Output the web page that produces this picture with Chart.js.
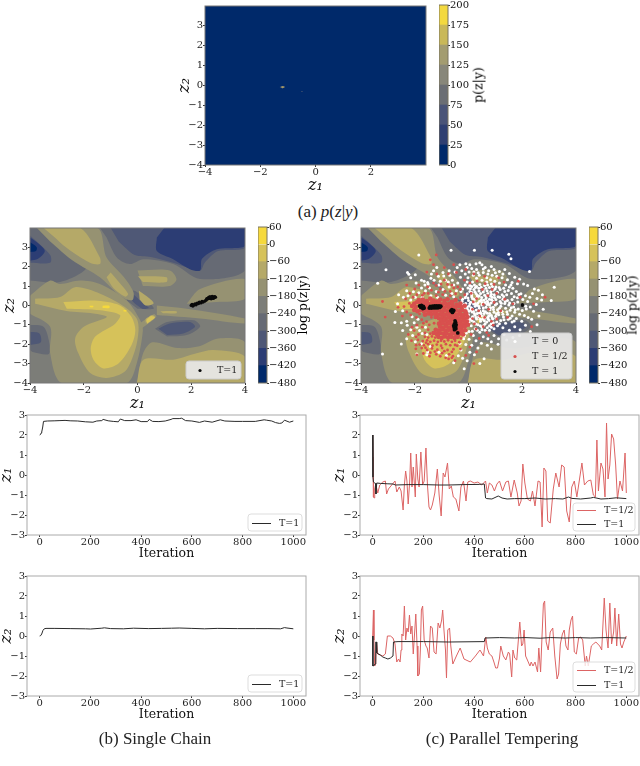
<!DOCTYPE html>
<html>
<head>
<meta charset="utf-8">
<script src="https://cdn.jsdelivr.net/npm/chart.js@4"></script>
<style>
  html, body { margin: 0; background: #fff; }
  #page { position: relative; width: 640px; height: 766px; overflow: hidden; }
  canvas { position: absolute; }
  .cap { position: absolute; font: 17px "Liberation Serif", serif; color: #222; transform: translate(-50%, -50%); white-space: nowrap; }
  .cbar { position: absolute; font: 12.5px "DejaVu Serif", serif; color: #000; transform: translate(-50%, -50%) rotate(-90deg); white-space: nowrap; }
</style>
</head>
<body>
<div id="page"></div>
<script>
// ---- axis ticks
const zTicksA = [-4, -2, 0, 2]
const zTicks = [-4, -2, 0, 2, 4]
const z2Ticks = [-4, -3, -2, -1, 0, 1, 2, 3]
const iterTicks = [0, 200, 400, 600, 800, 1000]
const traceTicks = [-3, -2, -1, 0, 1, 2, 3]

// ---- colorbars: lower edge of each band, and its colour
const probLevels = [0, 25, 50, 75, 100, 125, 150, 175, 200]
const probColors = ['#00296a', '#2f3f72', '#4a5478', '#6b6e74', '#88877a', '#a39c70', '#c9b858', '#f3d93f']
const logLevels = [-480, -420, -360, -300, -240, -180, -120, -60, 0, 60]
const logColors = ['#00296a', '#2c3d74', '#4f5876', '#666a74', '#7c7d78', '#969272', '#b5a968', '#d6c25a', '#f6d93c']

// ---- posterior contours, [level index, outline]; painted in this order
const logBase = 4
const logRegions = [
  [3, [[-4,4],[-3.5,4],[-2.64,2.8],[-1.9,1.95],[-2.88,1.2],[-4,1.28]]],
  [3, [[-1.4,4],[4,4],[4,1.8],[2.33,1.36],[1.33,2.13],[.22,2.38],[-.28,2.13],[-.77,2.47],[-1.15,3.5]]],
  [3, [[-.4,.25],[-.15,.77],[.47,.08],[.6,-.17],[0,-.17]]],
  [3, [[.65,-1.2],[1.1,-.85],[2.1,-.77],[2.33,-1.1],[1.83,-1.53],[1.1,-1.6]]],
  [3, [[-4,-1],[-3.5,-1.1],[-3.3,-1.8],[-3.3,-2.5],[-3.9,-2.4],[-4,-2.3]]],
  [2, [[-1,4],[4,4],[4,2.97],[3,2.8],[2.5,2.2],[2.33,1.8],[1.33,2.2],[.5,2.5],[-.1,2.6],[-.7,3.3]]],
  [2, [[-4,3.6],[-3.25,2.6],[-3.25,2.2],[-4,2.2]]],
  [2, [[.78,-1.2],[1.2,-.93],[1.95,-.85],[2.14,-1.1],[1.7,-1.45],[1.1,-1.53]]],
  [2, [[-.35,.45],[-.2,.6],[.2,.1],[.42,-.12],[.2,-.18],[-.1,.1]]],
  [2, [[-4,-1.36],[-3.65,-1.45],[-3.6,-1.9],[-4,-2.05]]],
  [1, [[1,4],[4,4],[4,3.06],[2.95,2.9],[2.4,2.4],[2.33,1.8],[1.95,1.87],[1.33,2.38],[.72,2.8],[.72,3.5]]],
  [1, [[-4,3.5],[-3.7,3.2],[-3.45,2.8],[-3.7,2.4],[-4,2.3]]],
  [0, [[-4,3.25],[-3.75,3],[-3.78,2.8],[-4,2.75]]],
  [5, [[-3.75,4],[-1.5,4],[-1.15,2.47],[-.5,1.45],[-.15,.68],[-.2,.26],[-.65,.5],[-1.4,1.45],[-2.4,2.3],[-3.25,3.3]]],
  [5, [[-4,.5],[-3.25,1.28],[-2.88,1.1],[-2.14,1.28],[-1.4,1.1],[-.4,.25],[.1,-.77],[.2,-1.28],[-.03,-3],[-.4,-4],[-2.82,-4],[-3.25,-2.47],[-3.25,-1.1],[-4,-.43]]],
  [5, [[0,1.8],[1.2,1.8],[1.45,1.35],[1.2,1],[.2,1]]],
  [5, [[.72,0],[1.83,-.17],[4,-.68],[4,-.93],[2.33,-.68],[.72,-.5]]],
  [5, [[1.83,.08],[2.33,.85],[4,1.36],[4,.34],[2.95,.17]]],
  [5, [[0,-4],[.2,-2.5],[.55,-1.9],[1.5,-2.2],[2.3,-2.1],[3,-1.7],[4,-1.9],[4,-4]]],
  [5, [[.05,-1.3],[.7,-.6],[.6,-.45],[.1,-.9]]],
  [6, [[-3.5,4],[-2.14,4],[-1.4,2.47],[-1.4,2.13],[-1.77,2.2],[-2.64,2.97],[-3.13,3.57]]],
  [6, [[-3.81,.34],[-2.88,.43],[-2.32,.94],[-1.39,.6],[-.47,-.08],[-.03,-.68],[.04,-1.28],[-.09,-2.3],[-.46,-3.4],[-1.15,-3.74],[-1.76,-3.49],[-2.2,-2.47],[-2.32,-1.7],[-2,-1.1],[-1.14,-.6],[-1.64,-.42],[-2.64,-.29],[-3.81,.08]]],
  [6, [[-1,1.7],[-.75,1.3],[-.35,.6],[-.45,.45],[-.9,.9],[-1.15,1.45]]],
  [6, [[.05,.75],[.45,.35],[.6,.1],[.3,0],[.08,.3]]],
  [6, [[.02,1.5],[1.08,1.45],[1.08,1.2],[.2,1.2]]],
  [6, [[-.03,-4],[.22,-2.8],[1.33,-2.8],[2.2,-2.47],[2.83,-2.3],[4,-2.64],[4,-4]]],
  [6, [[.3,-.9],[.65,-.6],[.55,-.5],[.3,-.7]]],
  [6, [[.85,-.3],[1.45,-.3],[1.45,-.4],[.95,-.4]]],
  [7, [[-2.76,.17],[-1.6,.25],[-.65,0],[-.22,-.6],[-.08,-1.28],[-.22,-2.04],[-.71,-3],[-1.27,-3.25],[-1.64,-2.8],[-1.74,-2.2],[-1.57,-1.6],[-.83,-.94],[-.65,-.5],[-1.38,-.25],[-2.63,-.17]]],
  [7, [[.35,-.95],[.65,-.62],[.5,-.55],[.33,-.75]]],
  [8, [[-1.78,-.02],[-1.65,-.02],[-1.65,-.1],[-1.78,-.1]]],
  [8, [[-1.3,-.02],[-1.05,-.02],[-1.05,-.14],[-1.3,-.14]]],
  [8, [[-.52,-.24],[-.42,-.24],[-.42,-.32],[-.52,-.32]]]
]
const probRegions = [
  [3, [[-1.3,-.08],[-1.2,-.03],[-1.1,-.08],[-1.2,-.15]]],
  [6, [[-1.25,-.08],[-1.2,-.06],[-1.14,-.08],[-1.2,-.12]]],
  [3, [[-.51,-.29],[-.48,-.29],[-.48,-.33],[-.51,-.33]]]
]

// ---- samples
const singleSamples = [[2,0],[2.03,.05],[2.06,-.03],[2.1,.02],[2.14,.08],[2.18,.03],[2.22,.12],[2.27,.1],[2.3,.16],[2.36,.13],[2.4,.2],[2.44,.17],[2.5,.22],[2.55,.27],[2.62,.34],[2.66,.38],[2.7,.36],[2.72,.42],[2.76,.38],[2.8,.44],[2.84,.4],[2.87,.45],[2.74,.34],[2.68,.44],[2.78,.46],[2.82,.36],[2.9,.42],[2.64,.4],[2.58,.35],[2.7,.42]]
const coldSamples = [[-1.82,-.02],[-1.78,-.1],[-1.75,0],[-1.72,-.08],[-1.7,-.16],[-1.68,-.05],[-1.65,-.14],[-1.46,-.14],[-1.42,-.05],[-1.38,-.14],[-1.34,-.04],[-1.3,-.12],[-1.26,-.03],[-1.22,-.13],[-1.18,-.02],[-1.14,-.12],[-1.1,-.03],[-1.06,-.1],[-1.03,-.04],[-1.25,-.09],[-1.2,-.07],[-.66,-.28],[-.62,-.22],[-.58,-.32],[-.55,-.26],[-.6,-.36],[-.48,-.88],[-.52,-.95],[-.46,-1],[-.55,-1.05],[-.48,-1.1],[-.53,-1.15],[-.47,-1.2],[-.5,-.8],[-.52,-1.25],[-.4,-1.42],[2,.02]]
const midDense = [[-1.85,.28],[-1.7,.3],[-1.55,.22],[-1.42,.35],[-1.3,.25],[-1.18,.2],[-1.05,.3],[-.9,.24],[-.78,.32],[-.62,.18],[-.48,.28],[-2.02,.1],[-1.92,.16],[-1.78,.12],[-1.65,.15],[-1.5,.08],[-1.36,.14],[-1.22,.08],[-1.1,.12],[-.98,.06],[-.86,.1],[-.72,.08],[-.6,.12],[-.44,.05],[-.3,.1],[-2.1,-.03],[-1.96,-.08],[-1.62,.02],[-1.55,-.05],[-1.5,-.14],[-.98,-.05],[-.9,-.12],[-.8,-.04],[-.72,-.12],[-.6,-.06],[-.5,-.1],[-.38,-.04],[-.26,-.08],[-.14,-.02],[-2.02,-.24],[-1.9,-.3],[-1.78,-.24],[-1.66,-.3],[-1.55,-.24],[-1.44,-.3],[-1.32,-.26],[-1.2,-.32],[-1.08,-.26],[-.96,-.3],[-.84,-.26],[-.74,-.34],[-.46,-.26],[-.34,-.3],[-.22,-.24],[-.12,-.3],[-1.62,-.48],[-1.5,-.42],[-1.38,-.46],[-1.26,-.42],[-1.14,-.48],[-1.02,-.44],[-.9,-.48],[-.78,-.44],[-.66,-.5],[-.54,-.44],[-.42,-.48],[-.3,-.44],[-.18,-.5],[-.08,-.44],[-1.22,-.6],[-1.1,-.66],[-.98,-.62],[-.86,-.66],[-.74,-.6],[-.62,-.66],[-.5,-.6],[-.38,-.66],[-.26,-.62],[-.14,-.66],[-.04,-.6],[-1.02,-.8],[-.9,-.76],[-.78,-.82],[-.66,-.78],[-.54,-.72],[-.42,-.78],[-.3,-.82],[-.18,-.78],[-.06,-.82],[-1.1,-.94],[-.96,-.92],[-.84,-.98],[-.72,-.92],[-.6,-.98],[-.36,-.94],[-.24,-.98],[-.12,-.94],[-.02,-1],[-1.06,-1.1],[-.94,-1.14],[-.82,-1.08],[-.7,-1.14],[-.6,-1.1],[-.36,-1.1],[-.26,-1.14],[-.14,-1.1],[-1.22,-1.26],[-1.1,-1.3],[-.98,-1.24],[-.86,-1.3],[-.74,-1.26],[-.62,-1.32],[-.5,-1.36],[-.36,-1.28],[-.24,-1.32],[-.12,-1.28],[-1.3,-1.42],[-1.18,-1.48],[-1.06,-1.42],[-.94,-1.46],[-.82,-1.44],[-.7,-1.5],[-.58,-1.44],[-.46,-1.5],[-.34,-1.46],[-.2,-1.5],[-1.12,-1.62],[-1,-1.68],[-.88,-1.6],[-.76,-1.66],[-.64,-1.62],[-.52,-1.68],[-.4,-1.62]]
const midSparse = [[-1.82,-.44],[-1.38,-.62],[-1.62,-1.62],[-1.5,-1.66],[-1.36,-1.6],[-1.24,-1.66],[-1.42,-1.46],[-.28,-1.7],[-1.28,-1.82],[-1.14,-1.88],[-1.02,-1.82],[-.9,-1.86],[-.76,-1.8],[-.62,-1.88],[-.5,-1.82],[-1.7,-1.84],[-1.54,-1.8],[-1.42,-1.88],[-.34,-1.9],[-1.82,-2.02],[-1.66,-2.06],[-1.5,-2],[-1.34,-2.08],[-1.18,-2.02],[-1.02,-2.08],[-.84,-2],[-.68,-2.06],[-.5,-2.04],[-1.96,-2.24],[-1.74,-2.2],[-1.54,-2.3],[-1.36,-2.22],[-1.16,-2.28],[-.98,-2.2],[-.78,-2.3],[-.56,-2.26],[-1.68,-2.48],[-1.42,-2.44],[-1.2,-2.52],[-.98,-2.46],[-.72,-2.52],[-1.92,-2.55],[-.62,-2.7],[-.74,-2.76],[-.58,-2.62],[-2.2,.1],[-2.34,.34],[-2.06,.42],[-1.72,.52],[-1.5,.62],[-1.2,.5],[-.96,.56],[-.68,.5],[-.48,.6],[-.3,.4],[-.14,.55],[-2.4,-.06],[-2.62,-.1],[-2.3,-.34],[-2.15,-.5],[-2.46,-.55],[-1.94,-.62],[-1.74,-.74],[-1.56,-.84],[-1.46,-1],[-1.28,-.92],[-1.72,-1.12],[-2.02,-1.3],[-2.24,-1.5],[-1.86,-1.5],[-3.2,.2],[-3.1,-.6],[-2.3,1.05],[-2,.85],[-1.85,1.05],[-1.52,.95],[-1.3,1.15],[-1.05,.85],[-.9,1.3],[-.62,1.05],[-.4,.95],[-.15,1.3],[-.75,1.62],[-1.18,1.62],[-1.55,1.72],[-.45,1.7],[-.1,1.85],[-1.2,2.6],[-1.42,2.35],[-1.3,2.1],[-.9,1.95],[-.55,2.1],[.1,.62],[.3,.35],[.52,.82],[.72,.5],[.15,-.2],[.42,-.55],[.75,-.2],[.95,.15],[.22,-.95],[.55,-1.1],[.1,-1.5],[.4,-1.7],[.75,-1.55],[.05,-2.15],[.3,-2.4],[-.1,-2.58],[.2,-3],[.55,.05],[1.05,.62],[1.35,.32],[1.05,-.7],[1.45,-.62],[2.35,-1.1],[2.85,.42],[2.42,.08],[1.92,.42],[.95,1.08],[1.32,1.2],[.6,1.5],[.32,1.25],[1.85,1.25],[.05,1.15],
[-1.58,-1.92],[-1.88,-1.78],[-1.95,-2.05],[-1.6,-2.18],[-1.25,-2.38],[-.9,-2.36],[-.62,-2.4],[-.42,-2.08],[-.3,-2.25],[-1.45,-2.62],[-1.05,-2.62],[-.85,-2.7],[-.5,-2.85],[-1.68,-.92],[-1.92,-1.02],[-2.1,-1.12],[-1.5,-1.25],[-1.62,-1.42],[-1.95,-1.62],[-2.12,-1.82],[-.68,.72],[-.88,.72],[-1.12,.68],[-1.38,.78],[-1.65,.62],[-1.92,.55],[-2.18,.62],[-.3,.82],[-.55,.9],[-.78,1.08],[-1.02,1.1],[-1.2,1.02],[.18,.18],[.38,-.28],[.6,-.62],[.85,-.82],[.15,-.68],[.28,-1.22],[.68,-1.4],[.92,-1.02],[1.2,-.28],[1.65,.08],[.88,.82],[.62,1.12],[.2,1.62],[1.12,1.42]]
const hotSamples = [[-.65,2.84],[.22,2.84],[.88,2.84],[1.5,2.64],[1.58,2.41],[-1.85,2.6],[-3.07,1.84],[-3.38,1.14],[2.27,1.75],[3.19,.94],[-3.2,-2.5],[-2.5,-1.99],[-2.74,-.88],[-2.64,.08],[-2.27,1.7],[-2.22,1.6],[-.16,-3.27],[.42,-3],[.58,-2.75],[.22,-2.55],[.85,-2.25],[1.1,-2],[.7,-2.05],[-1.52,-2.4],[-1.92,-2.5],[-1.55,-2.55],[-2.08,-1.55],[-2.3,-1.72],[-1.82,-1.3],[-1.6,-1.12],[-2.02,-.9],[-2.3,-.82],[-2.5,-.9],[-1.88,-.72],[-2.1,-.58],[-2.25,.5],[-2.3,.75],[-2.05,.7],[-1.85,.65],[-1.6,.75],[-1.75,.9],[-1.5,1.1],[-1.65,1.25],[-1.4,1.4],[-1.52,1.18],[-1.75,1.3],[-.95,1.7],[-1.18,1.95],[-1.3,1.78],[-.7,1.55],[-.85,1.3],[-1.05,1.25],[-.6,1.3],[-.5,1.72],[-.3,1.45],[-.72,.95],[-.95,.82],[-1.2,.72],[-.45,.75],[-.28,.72],[-.55,.45],[-.22,.32],[-.1,.5],[.28,2.15],[.42,2.2],[.05,2.1],[-.1,2.15],[-.32,2.1],[.5,2.1],[.62,1.95],[.85,2],[.95,1.85],[1.15,1.75],[1.35,1.85],[1.52,1.65],[1.72,1.45],[1.9,1.35],[.12,1.9],[.3,1.85],[.02,1.72],[-.12,1.62],[-.02,1.42],[.18,1.55],[.36,1.68],[.55,1.7],[.72,1.62],[.88,1.55],[1.05,1.5],[1.25,1.42],[1.45,1.32],[1.62,1.18],[1.82,1.12],[2.05,1.1],[2.2,1.02],[2.45,.85],[2.6,.78],[1.65,.88],[1.52,.95],[1.35,.72],[1.18,.82],[1.02,.95],[.85,1.1],[.68,1.2],[.5,1.3],[.3,1.4],[.15,1.2],[-.05,1.2],[.05,1.02],[.22,1.05],[.42,1.08],[.6,1.02],[.78,.92],[.92,.78],[1.08,.68],[1.25,.55],[1.42,.55],[1.6,.62],[1.78,.72],[1.95,.6],[2.12,.5],[2.28,.42],[2.55,.35],[2.72,.28],[3.08,.25],[2.52,.05],[2.3,-.08],[2.15,-.18],[2,-.26],[1.85,-.18],[1.68,-.08],[1.5,.02],[1.35,.1],[1.18,.2],[1.02,.3],[.88,.42],[.72,.62],[.55,.8],[.38,.88],[.2,.82],[.05,.72],[-.05,.6],[.12,.55],[.28,.62],[.45,.62],[.6,.52],[.78,.32],[.92,.2],[1.05,.08],[1.2,-.05],[1.38,-.15],[1.55,-.25],[1.72,-.35],[1.9,-.45],[2.08,-.52],[2.22,-.62],[2.35,-.72],[2.62,-.55],[1.98,-.82],[1.78,-.68],[1.62,-.55],[1.45,-.45],[1.25,-.32],[1.08,-.22],[.92,-.1],[.78,.02],[.62,.15],[.48,.28],[.32,.42],[.15,.35],[0,.25],[-.1,.1],[.05,.08],[.2,.18],[.35,.12],[.5,.02],[.65,-.1],[.8,-.22],[.95,-.35],[1.12,-.48],[1.3,-.6],[1.48,-.72],[1.62,-.85],[1.38,-.92],[1.2,-.78],[1.02,-.66],[.85,-.52],[.7,-.4],[.55,-.28],[.4,-.15],[.25,-.05],[.1,-.12],[-.05,-.08],[-.12,-.25],[.02,-.3],[.18,-.3],[.32,-.42],[.48,-.52],[.62,-.65],[.78,-.78],[.92,-.9],[1.08,-1.05],[.95,-1.2],[.78,-1.05],[.62,-.95],[.45,-.82],[.3,-.7],[.15,-.58],[0,-.48],[-.1,-.55],[.05,-.72],[.2,-.85],[.35,-1],[.5,-1.12],[.62,-1.28],[.42,-1.38],[.25,-1.2],[.1,-1.05],[-.05,-.9],[-.12,-1.2],[.02,-1.35],[.18,-1.55],[.02,-1.75],[-.18,-1.72],[-.32,-1.95],[-.1,-2.02],[.48,-1.95],[.72,-1.72],[.95,-1.55],[-.28,-2.3],[-.38,-2.6],[-.05,-2.85],[.35,-2.2],[1.32,-1.5],[1.52,-1.28],[1.72,-1.1],[1.92,-1.25],[2.3,-1.35],[1.28,-1.15],[.3,.98],[.12,.98],[-.02,.9],[.65,.88],[.4,.48],[.22,.3],[.7,.22],[.85,.58],[1.1,.45],[1.28,.32],[1.45,.25],[1.62,.3],[1.82,.4],[2.02,.3],[2.2,.2],[1,.02],[1.15,-.15],[.82,-.12],[.65,.35],[.5,.15],[.32,.02],[.15,-.18],[.42,-.3],[.58,-.42],[.75,-.55],[.9,-.7],[1.05,-.85],[.22,-.42],[.38,-.58],[.52,-.72],[.68,-.85],[.85,-.95],
[.08,.16],[.26,.09],[.41,.22],[.57,.27],[.73,.11],[.86,.29],[.03,-.03],[.19,.07],[.38,-.05],[.55,-.13],[.69,.05],[.84,.12],[.97,.41],[.12,.44],[.33,.52],[.49,.41],[.66,.45],[.82,.49],[.96,.55],[.14,-.34],[.29,-.24],[.46,-.41],[.63,-.33],[.79,-.42],[.93,-.21],[1.04,-.43],[.09,-.24],[.24,-.51],[.39,-.36],[.57,-.58],[.72,-.62],[.88,-.63],[1.01,-.56],[.13,-.66],[.28,-.62],[.43,-.71],[.59,-.79],[.74,-.71],[.12,.67],[.24,.71],[.39,.74],[.55,.69],[.69,.75],[.83,.71],[.99,.84],[1.14,.92],[1.31,.88],[1.48,.77],[.07,.86],[.26,.92],[.47,.94],[.71,1.05],[.89,.98],[1.16,.42],[1.31,.46],[1.22,.11],[1.37,.2],[1.53,.12],[1.11,-.36],[1.28,-.46],[1.43,-.33],[1.59,-.12],[1.74,-.22],[1.69,.1],[1.83,.18],[1.98,.04],[2.13,-.05],[1.7,.45],[1.88,.56],[-.2,.05],[-.16,-.14],[-.24,.2],[-.02,.38],[-.12,.4],[-.04,-.2],[-.02,-.62],[-.08,-.72],[.02,-.85],[.12,-.78],[.27,-.96],[.44,-1.05],[.57,-1.03],[.7,-1.15],[.85,-1.12],[.33,-1.28],[.14,-1.33],[.5,-1.25],[.78,-1.28],[1.15,-.95],[1.32,-.74],[1.55,-.66],[1.7,-.8],[-.22,.85],[-.12,1.05],[.68,1.42],[.82,1.32],[.98,1.25],[1.15,1.15],[1.38,1.05],[1.58,1.05],[.4,1.55],[.2,1.72],[.55,1.88],[.75,1.78],[1,1.68],[1.28,1.62],[-.4,1.15],[-.55,1.05],[-.75,1.2],[-1.1,1.05],[-1.28,1.3],[-1.45,.9],[-1.62,1.05],[-1.95,1.15],[-2.15,1.42],[-1.98,1.58],
[-2.42,.42],[-2.6,.55],[-2.15,.28],[-1.98,.42],[-1.72,.42],[-1.4,.5],[-1.15,.42],[-.85,.52],[-.62,.62],[-2.72,-.32],[-2.45,-.28],[-2.28,-1.02],[-2.45,-1.3],[-2.15,-1.25],[-1.92,-1.12],[-1.72,-1.45],[-1.55,-1.5],[-1.98,-1.88],[-1.75,-1.98],[-1.42,-2.12],[-1.1,-2.42],[-.82,-2.58],[-.55,-2.95],[-.22,-2.72],[.05,-2.42],[.12,-2.05],[.28,-1.82],[.55,-1.62],[.85,-1.88],[1.12,-1.72],[1.42,-1.78],[-.08,-1.42],[-.15,-1.58],[-1.38,1.62],[-1.12,1.5],[-.92,1.52],[-.72,1.78],[-.42,1.95],[-.25,1.78],[-.05,1.95],[2.38,.62],[2.75,.55],[2.42,-.3],[2.78,-.2],[2.55,-1],[2.12,-1.02],[1.9,-1.55],[1.65,-1.65]]

// ---- traces: iteration numbers and values
const singleIter1 = [0,3,6,8,12,15,30,60,80,100,120,150,180,210,225,245,250,270,290,310,318,335,360,380,400,425,432,445,470,495,518,525,550,560,575,600,630,650,680,712,730,770,800,850,885,895,915,930,945,955,965,985,1000]
const singleZ1 = [2,2.02,2.1,2.15,2.4,2.68,2.7,2.71,2.72,2.73,2.71,2.7,2.66,2.64,2.7,2.72,2.78,2.71,2.68,2.66,2.8,2.72,2.72,2.76,2.67,2.67,2.78,2.68,2.67,2.7,2.78,2.82,2.82,2.84,2.72,2.7,2.63,2.7,2.64,2.76,2.7,2.68,2.68,2.68,2.76,2.74,2.7,2.62,2.58,2.6,2.74,2.64,2.7]
const singleIter2 = [0,4,8,13,18,25,60,120,180,200,245,255,280,330,370,430,480,520,550,600,650,700,780,850,900,950,965,975,1000]
const singleZ2 = [0,.02,.1,.28,.36,.38,.38,.37,.36,.35,.39,.41,.37,.36,.39,.37,.38,.39,.4,.38,.36,.38,.37,.37,.37,.36,.42,.4,.36]
const partIter1 = [0,2,3,6,8,12,20,28,40,50,55,62,75,88,95,105,112,120,125,130,135,140,146,150,155,160,168,172,178,183,190,197,203,210,216,222,228,235,245,255,262,270,278,285,295,302,310,318,328,340,348,358,368,375,385,400,415,430,445,452,460,470,480,490,500,512,525,535,545,558,570,577,585,592,600,610,622,630,640,652,660,668,675,683,690,700,712,722,735,745,755,765,775,785,795,805,825,835,848,860,870,878,884,890,900,908,916,922,928,935,942,950,958,965,975,985,995,1000]
const hotZ1 = [2,.9,-1.1,-1.15,-.7,-.45,-.9,-.5,-.35,-.3,-.95,-.7,-.5,-.3,-.85,-.6,-.8,-1.75,-.5,.2,-.3,-1.45,-.3,1.1,-.6,.4,-1.1,1.05,-.2,-.6,1.15,-.5,-.3,1.35,-.5,-1.6,-1.75,-1.5,-.9,.3,-1,-2.05,.1,-.1,.6,-.7,-.55,-1.1,-1.2,-1.8,-.6,-.3,-1.3,-.35,-.3,-.4,-.35,-.5,-.3,-.9,-.4,-.5,-.8,-.45,-.3,-.8,-.35,-.3,-1.1,-.25,-.9,-1.55,-1.3,.55,-.4,-1.2,-1.3,-.8,-1.55,-.3,-.35,-2.6,.35,.2,-2.3,-2.4,-.7,.1,-.6,.5,.4,-1.8,-2.35,-.6,-.3,-1.1,.6,-.5,-.3,-.25,-1,-1.1,1.75,-.8,.6,.3,-1.1,2.6,-.2,.5,2.05,1.8,.5,-1.2,-.3,-.8,1.1,-.9]
const partIter2 = [0,3,5,8,12,15,20,30,40,50,58,70,80,88,95,102,108,112,115,120,125,130,135,140,145,150,155,160,165,170,175,178,184,188,192,197,203,210,215,222,228,235,242,250,258,265,272,276,281,287,291,296,303,308,316,330,345,360,385,405,423,437,446,452,460,470,478,485,492,500,505,515,525,535,540,548,553,560,568,575,580,587,592,597,603,610,620,625,632,640,650,655,662,668,673,678,684,692,700,710,718,727,733,740,748,755,762,770,775,782,788,795,803,812,820,828,838,843,850,862,870,880,895,903,913,920,928,935,942,950,955,962,970,977,983,990,1000]
const hotZ2 = [0,1.3,-.2,-1.5,-1.4,-.3,-.9,-.95,-1,-.9,0,0,-.1,-.4,-1.3,-1.15,-1.3,-.7,.1,0,1.5,-.2,.4,.2,1.05,.1,.5,-.9,.1,1.1,-.5,-2,-1.9,-.7,1.3,1.5,-.2,-.5,-.6,-1.1,.5,.4,-.8,-.9,.65,.4,.8,1.3,.3,-.7,-2.1,.3,.4,-.5,-1.4,-1,-.6,-1.15,-1.3,-1,-.7,-1,-.05,-.6,-.9,-1,-1.3,-1.6,-1.6,-1.1,-.5,-1,-1.2,-.8,-.9,-2.05,-.7,-1.1,-1.2,-.1,.7,-.5,-.4,.3,-1,-1.2,-1.5,-1.3,-1.5,-1.3,-1.8,-.6,-1.8,.1,1.6,1.75,-.3,-.7,.2,.4,-1,-2.15,-1.9,-.4,.1,.3,-.5,-.7,.3,.8,1,-.8,-.9,-.1,-.05,-.2,-1.5,-1,-1.5,-.5,-.4,-.3,-.5,-.7,1.9,.3,-.6,1.65,-.4,.2,1.4,-.5,1.1,-.4,-.6,-.3,0]
const coldIter1 = [0,1,3,8,11,13,16,30,60,80,90,140,200,260,300,360,420,440,445,450,470,495,510,530,560,600,640,680,720,750,772,785,820,860,870,900,930,960,1000]
const coldZ1 = [2,-.1,-.35,-.4,-.42,-.95,-.4,-.42,-.44,-.45,-.5,-.48,-.48,-.5,-.5,-.48,-.47,-.45,-1.15,-1.18,-1.2,-1.05,-1.15,-1.2,-1.18,-1.18,-1.15,-1.2,-1.18,-1.2,-1.1,-1.17,-1.2,-1.15,-1.12,-1.2,-1.18,-1.14,-1.18]
const coldIter2 = [0,1,3,6,10,12,15,16,30,40,50,60,70,80,82,100,200,300,440,443,500,560,600,660,700,760,800,860,920,1000]
const coldZ2 = [0,-1.5,-1.5,-1.45,-1.4,-.3,-.3,-.85,-.95,-1.05,-1.1,-1.15,-1.1,-1,-.3,-.28,-.28,-.3,-.28,-.1,-.08,-.1,-.08,-.11,-.08,-.1,-.08,-.1,-.08,-.1]

Chart.defaults.font.family = '"DejaVu Serif", serif'
Chart.defaults.font.size = 10
Chart.defaults.color = '#222'
Chart.defaults.animation = false
Chart.defaults.plugins.legend.display = false
Chart.defaults.plugins.tooltip.enabled = false

const PAD = { left: 30, top: 5, right: 8, bottom: 32 }
const page = document.getElementById('page')
const minus = v => String(v).replace('-', '\u2212')
const xy = (xs, ys) => xs.map((x, i) => ({ x, y: ys[i] }))
const toPoints = list => list.map(p => ({ x: p[0], y: p[1] }))

// box around the plot area, spines on all four sides
const frame = {
  id: 'frame',
  afterDatasetsDraw(chart, args, opts) {
    const { left, top, width, height } = chart.chartArea
    chart.ctx.strokeStyle = opts.color
    chart.ctx.lineWidth = 1
    chart.ctx.strokeRect(left, top, width, height)
  }
}

// matplotlib style legend sitting inside the axes
const innerLegend = {
  id: 'innerLegend',
  afterDatasetsDraw(chart, args, opts) {
    if (!opts.w) return
    const ctx = chart.ctx
    const { right, bottom } = chart.chartArea
    const x = right - opts.w - opts.right, y = bottom - opts.h - opts.bottom
    ctx.save()
    ctx.fillStyle = opts.fill
    ctx.strokeStyle = opts.edge
    ctx.beginPath()
    ctx.roundRect(x, y, opts.w, opts.h, 3)
    ctx.fill()
    ctx.stroke()
    const items = chart.data.datasets.filter(d => d.label)
    const rowH = opts.h / items.length
    ctx.font = '9.5px "DejaVu Serif", serif'
    ctx.textBaseline = 'middle'
    opts.rows(items).forEach((d, i) => {
      const cy = Math.round(y + rowH * (i + .5)) + .5
      if (opts.line) {
        ctx.strokeStyle = d.borderColor
        ctx.lineWidth = 1
        ctx.beginPath()
        ctx.moveTo(x + 4, cy)
        ctx.lineTo(x + 23, cy)
        ctx.stroke()
      } else {
        ctx.fillStyle = d.pointBackgroundColor
        ctx.beginPath()
        ctx.arc(x + 14, cy, 1.6, 0, Math.PI * 2)
        ctx.fill()
      }
      ctx.fillStyle = '#222'
      ctx.fillText(d.label, x + 31, cy)
    })
    ctx.restore()
  }
}
Chart.register(frame, innerLegend)

function addCanvas(plot) {
  const c = document.createElement('canvas')
  const w = plot.x1 - plot.x0 + PAD.left + PAD.right
  const h = plot.y1 - plot.y0 + PAD.top + PAD.bottom
  c.width = w
  c.height = h
  c.style.left = (plot.x0 - PAD.left) + 'px'
  c.style.top = (plot.y0 - PAD.top) + 'px'
  page.appendChild(c)
  return c
}

function axis(min, max, ticks, title, size, gridColor, labelGap) {
  return {
    type: 'linear', min, max,
    afterBuildTicks: s => { s.ticks = ticks.map(value => ({ value })) },
    grid: { drawOnChartArea: false, tickLength: 2, color: gridColor },
    border: { display: false },
    ticks: { padding: labelGap, maxRotation: 0, autoSkip: false, callback: minus, color: '#222' },
    title: { display: true, text: title, color: '#111', padding: 0,
      font: { size, style: title[0] === 'z' ? 'italic' : 'normal' } }
  }
}

function baseChart(plot, datasets, x, y, frameColor, legend, tail) {
  x.afterFit = s => { s.height = tail }
  y.afterFit = s => { s.width = PAD.left }
  return new Chart(addCanvas(plot), {
    type: 'scatter',
    data: { datasets },
    options: {
      responsive: false,
      layout: { padding: { top: PAD.top, right: PAD.right, left: 0, bottom: PAD.bottom - tail } },
      scales: { x, y },
      plugins: { frame: { color: frameColor }, innerLegend: legend || {} }
    }
  })
}

// contour outlines become closed filled lines; first dataset is painted on top
function regionSets(regions, colors) {
  return regions.map(([lvl, outline]) => ({
    data: toPoints(outline),
    showLine: true,
    fill: 'shape',
    tension: .3,
    borderWidth: 0,
    pointRadius: 0,
    backgroundColor: colors[lvl]
  })).reverse()
}

function markSet(label, list, color, radius) {
  return { label, data: toPoints(list), pointRadius: radius, pointBorderWidth: 0, pointBackgroundColor: color, showLine: false }
}

function lineSet(label, xs, ys, color) {
  return { label, data: xy(xs, ys), showLine: true, borderColor: color, borderWidth: 1, pointRadius: 0, fill: false }
}

function contourPanel(plot, xMax, xTicks, regions, colors, baseColor, marks, legend) {
  const sets = marks.concat(regionSets(regions, colors))
  // plain background rectangle of the lowest band
  sets.push({ data: toPoints([[-4, -4], [-4, 4], [4, 4], [4, -4]]), showLine: true, fill: 'shape', borderWidth: 0, pointRadius: 0, backgroundColor: baseColor })
  return baseChart(plot, sets, axis(-4, xMax, xTicks, 'z\u2081', 16, '#333', -1), axis(-4, 3.99, z2Ticks, 'z\u2082', 16, '#333', 0), '#777', legend, 30)
}

function tracePanel(plot, sets, yTitle, legend) {
  return baseChart(plot, sets, axis(-50, 1050, iterTicks, 'Iteration', 12.5, '#333', -1), axis(-3, 3, traceTicks, yTitle, 16, '#333', 0), '#aaa', legend, 26)
}

function colorbar(plot, levels, colors, label, labelX) {
  const sets = colors.map((c, i) => ({ data: [[levels[i], levels[i + 1]]], backgroundColor: c, grouped: false, barPercentage: 1, categoryPercentage: 1, borderWidth: 0 }))
  const c = document.createElement('canvas')
  c.width = 50
  c.height = plot.y1 - plot.y0 + 12
  c.style.left = plot.x0 + 'px'
  c.style.top = (plot.y0 - 6) + 'px'
  page.appendChild(c)
  new Chart(c, {
    type: 'bar',
    data: { labels: [''], datasets: sets },
    options: {
      responsive: false,
      layout: { padding: { top: 6, bottom: 6, left: 0, right: 0 } },
      scales: {
        x: { display: false },
        y: {
          position: 'right', min: levels[0], max: levels[levels.length - 1],
          afterBuildTicks: s => { s.ticks = levels.map(value => ({ value })) },
          afterFit: s => { s.width = 50 - (plot.x1 - plot.x0) },
          grid: { drawOnChartArea: false, tickLength: 2, color: '#333' },
          border: { display: false },
          ticks: { padding: 0, autoSkip: false, callback: minus, color: '#111', font: { size: 10 } }
        }
      },
      plugins: { frame: { color: '#7a7460' } }
    }
  })
  const t = document.createElement('div')
  t.className = 'cbar'
  t.textContent = label
  t.style.left = labelX + 'px'
  t.style.top = ((plot.y0 + plot.y1) / 2) + 'px'
  page.appendChild(t)
}

function caption(text, x, y) {
  const d = document.createElement('div')
  d.className = 'cap'
  d.innerHTML = text
  d.style.left = x + 'px'
  d.style.top = y + 'px'
  page.appendChild(d)
}

const lightBox = { fill: 'rgba(232,232,232,.92)', edge: '#ccc', right: 4, bottom: 4, rows: items => items }
const whiteBox = { fill: 'rgba(255,255,255,.82)', edge: '#ddd', line: true, right: 4, bottom: 4, rows: items => items.slice().reverse() }

// (a)
contourPanel({ x0: 205, y0: 5, x1: 426, y1: 165 }, 3.99, zTicksA, probRegions, probColors, probColors[0], [], null)
colorbar({ x0: 439, y0: 5, x1: 448, y1: 165 }, probLevels, probColors, 'p(z|y)', 478)
caption('(a) <i>p</i>(<i>z</i>|<i>y</i>)', 328, 212)

// (b) and (c) log posterior
contourPanel({ x0: 30, y0: 227, x1: 245, y1: 383 }, 4, zTicks, logRegions, logColors, logColors[logBase],
  [markSet('T=1', singleSamples, '#0a0a0a', 1.7)], { ...lightBox, w: 55, h: 18 })
colorbar({ x0: 258, y0: 227, x1: 267, y1: 383 }, logLevels, logColors, 'log p(z|y)', 302)
contourPanel({ x0: 361, y0: 227, x1: 576, y1: 383 }, 4, zTicks, logRegions, logColors, logColors[logBase],
  [markSet('T = 1', coldSamples, '#0a0a0a', 1.9), markSet('T = 1/2', midSparse, '#d8504e', 1.4), markSet('', midDense, '#d8504e', 2.3), markSet('T = 0', hotSamples, '#fff', 1.5)],
  { ...lightBox, w: 71, h: 46, rows: items => items.slice().reverse() })
colorbar({ x0: 589, y0: 227, x1: 598, y1: 383 }, logLevels, logColors, 'log p(z|y)', 632)

// traces
const black = '#2a2a2a', red = '#dc6464'
tracePanel({ x0: 27, y0: 414, x1: 306, y1: 535 }, [lineSet('T=1', singleIter1, singleZ1, black)], 'z\u2081', { ...whiteBox, w: 54, h: 17 })
tracePanel({ x0: 27, y0: 575, x1: 306, y1: 696 }, [lineSet('T=1', singleIter2, singleZ2, black)], 'z\u2082', { ...whiteBox, w: 54, h: 17 })
tracePanel({ x0: 360, y0: 414, x1: 639, y1: 535 }, [lineSet('T=1', coldIter1, coldZ1, black), lineSet('T=1/2', partIter1, hotZ1, red)], 'z\u2081', { ...whiteBox, w: 62, h: 28 })
tracePanel({ x0: 360, y0: 575, x1: 639, y1: 696 }, [lineSet('T=1', coldIter2, coldZ2, black), lineSet('T=1/2', partIter2, hotZ2, red)], 'z\u2082', { ...whiteBox, w: 62, h: 30 })

caption('(b) Single Chain', 155, 739)
caption('(c) Parallel Tempering', 502, 739)
</script>
</body>
</html>
